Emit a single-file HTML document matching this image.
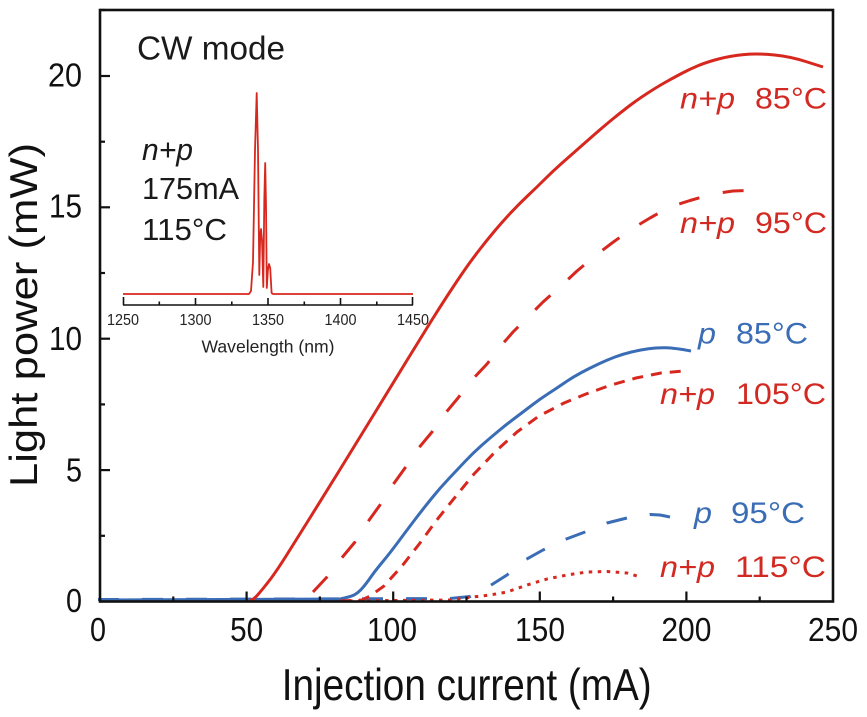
<!DOCTYPE html>
<html><head><meta charset="utf-8"><style>
html,body{margin:0;padding:0;background:#fff;}
svg{display:block;}
text{font-family:"Liberation Sans",Arial,sans-serif;}
</style></head><body>
<svg width="867" height="717" viewBox="0 0 867 717" xmlns="http://www.w3.org/2000/svg">
<rect width="867" height="717" fill="#fff"/>

<!-- Inset spectrum -->
<g>
<polyline fill="none" stroke="#d7281f" stroke-width="1.8" stroke-linejoin="round" points="123,294 249,294 251,291 253,262 255,150 256.7,93 258,150 259.3,275 260.2,236 261,229 262,240 263.3,287 264.3,200 265.2,163 266,205 266.8,288 267.9,270 269,264 270.2,268 271.6,293 273,294 413,294"/>
<line x1="123" y1="305" x2="413" y2="305" stroke="#111" stroke-width="1.6"/>
<g stroke="#111" stroke-width="1.6">
<line x1="123.5" y1="305" x2="123.5" y2="297"/>
<line x1="195.5" y1="305" x2="195.5" y2="298"/>
<line x1="268" y1="305" x2="268" y2="298"/>
<line x1="340.5" y1="305" x2="340.5" y2="298"/>
<line x1="412.5" y1="305" x2="412.5" y2="297"/>
<line x1="159.3" y1="305" x2="159.3" y2="301.5"/>
<line x1="231.8" y1="305" x2="231.8" y2="301.5"/>
<line x1="304.3" y1="305" x2="304.3" y2="301.5"/>
<line x1="376.8" y1="305" x2="376.8" y2="301.5"/>
</g>
<g font-size="15.5" fill="#222" text-anchor="middle">
<text x="123" y="325" textLength="32" lengthAdjust="spacingAndGlyphs">1250</text>
<text x="195.5" y="325" textLength="32" lengthAdjust="spacingAndGlyphs">1300</text>
<text x="268" y="325" textLength="32" lengthAdjust="spacingAndGlyphs">1350</text>
<text x="340.5" y="325" textLength="32" lengthAdjust="spacingAndGlyphs">1400</text>
<text x="413" y="325" textLength="32" lengthAdjust="spacingAndGlyphs">1450</text>
<text x="268" y="352.5" font-size="17.5" textLength="133" lengthAdjust="spacingAndGlyphs">Wavelength (nm)</text>
</g>
<g fill="#1a1a1a">
<text x="137" y="59.5" font-size="33" textLength="148" lengthAdjust="spacingAndGlyphs">CW mode</text>
<text x="142" y="160" font-size="30.5" font-style="italic" textLength="51" lengthAdjust="spacingAndGlyphs">n+p</text>
<text x="142" y="199" font-size="30.5" textLength="97" lengthAdjust="spacingAndGlyphs">175mA</text>
<text x="142" y="240" font-size="30.5" textLength="85" lengthAdjust="spacingAndGlyphs">115°C</text>
</g>
</g>

<!-- Curves -->
<g fill="none" stroke-width="3" stroke-linejoin="round">
<!-- blue dashed p 95 -->
<polyline stroke="#3a6db5" stroke-dasharray="21 23" points="98,599.5 450,598.5 470,596.5 488,587 507,575 525,560 543,550 565,539.5 585,532 607,523 627,518 650,514.5 660,515 670,517"/>
<!-- blue solid p 85 -->
<path stroke="#3a6db5" d="M100,600 L340,599 Q350,597 354,595 Q358,593 362,588.5 Q366,584 370.5,577.5 Q375,571 382.5,562 Q390,553 398.5,541.5 Q407,530 415,519.5 Q423,509 431.5,498.5 Q440,488 448.5,479 Q457,470 465,461.5 Q473,453 481.5,445.5 Q490,438 498.5,431 Q507,424 515,418 Q523,412 531.5,405.5 Q540,399 548.5,393.5 Q557,388 565,382.5 Q573,377 581.5,372.5 Q590,368 598.5,364 Q607,360 615,357 Q623,354 631.5,352 Q640,350 648.5,348.75 Q657,347.5 666,347.75 Q675,348 691,351"/>
<!-- red solid n+p 85 -->
<path stroke="#d7281f" d="M250,600.5 L252,599.75 Q254,599 258,594.5 Q262,590 269,581 Q276,572 287,554.5 Q298,537 310.5,517 Q323,497 340,469.5 Q357,442 373.5,415 Q390,388 407.5,359.5 Q425,331 432.5,319 Q440,307 447.5,295.5 Q455,284 462.5,273 Q470,262 478.5,251 Q487,240 495,230.5 Q503,221 511.5,212 Q520,203 528.5,195 Q537,187 545,179 Q553,171 561.5,163.5 Q570,156 578.5,148.5 Q587,141 595,134 Q603,127 611.5,120 Q620,113 628.5,106.5 Q637,100 647,93.5 Q657,87 665,82.5 Q673,78 681.5,73.5 Q690,69 698.5,65.5 Q707,62 718.5,59 Q730,56 743.5,54.65 Q757,53.3 773.5,54.9 Q790,56.5 806.5,61.75 L823,67"/>
<!-- red dashed n+p 95 -->
<polyline stroke="#d7281f" stroke-dasharray="21 24" points="313,592 327,577 340,560 355,542 367,523 380,505 392,486 405,468 417,450 432,432 443,416 458,398 470,382 487,364 500,347 513,332 528,317 543,302 562,285 577,271 595,256 612,243 630,230 650,218 670,207 690,200.5 713,194 733,191 758,190"/>
<!-- red short dashed n+p 105 -->
<polyline stroke="#d7281f" stroke-dasharray="11 8" points="340,601 362,600 370,596 384,586 402,566 420,543 436,521 456,496 474,474 496,451 517,432 539,416 564,403 586,394 611,385 636,378 661,373 684,371"/>
<!-- red dotted n+p 115 -->
<polyline stroke="#d7281f" stroke-dasharray="3.5 5.5" points="340,601 450,600 473,597 490,595 507,592 527,585 547,579 567,575 587,572 607,571.5 627,573 637,576"/>
</g>

<!-- Axes frame -->
<rect x="100" y="10" width="733" height="591.5" fill="none" stroke="#111" stroke-width="2.6"/>
<g stroke="#111" stroke-width="2.2">
<line x1="246.6" y1="601.5" x2="246.6" y2="591.5"/>
<line x1="393.2" y1="601.5" x2="393.2" y2="591.5"/>
<line x1="539.8" y1="601.5" x2="539.8" y2="591.5"/>
<line x1="686.4" y1="601.5" x2="686.4" y2="591.5"/>
<line x1="173.3" y1="601.5" x2="173.3" y2="596.5"/>
<line x1="319.9" y1="601.5" x2="319.9" y2="596.5"/>
<line x1="466.5" y1="601.5" x2="466.5" y2="596.5"/>
<line x1="613.1" y1="601.5" x2="613.1" y2="596.5"/>
<line x1="759.7" y1="601.5" x2="759.7" y2="596.5"/>
<line x1="100" y1="470.1" x2="110" y2="470.1"/>
<line x1="100" y1="338.7" x2="110" y2="338.7"/>
<line x1="100" y1="207.3" x2="110" y2="207.3"/>
<line x1="100" y1="76" x2="110" y2="76"/>
<line x1="100" y1="535.8" x2="105" y2="535.8"/>
<line x1="100" y1="404.4" x2="105" y2="404.4"/>
<line x1="100" y1="273" x2="105" y2="273"/>
<line x1="100" y1="141.7" x2="105" y2="141.7"/>
<line x1="100" y1="10" x2="105" y2="10"/>
</g>

<!-- Tick labels -->
<g font-size="33" fill="#111">
<g text-anchor="end">
<text x="82" y="612" textLength="16" lengthAdjust="spacingAndGlyphs">0</text>
<text x="82" y="481.5" textLength="16" lengthAdjust="spacingAndGlyphs">5</text>
<text x="82" y="350" textLength="33" lengthAdjust="spacingAndGlyphs">10</text>
<text x="82" y="217.5" textLength="33" lengthAdjust="spacingAndGlyphs">15</text>
<text x="82" y="86.5" textLength="34" lengthAdjust="spacingAndGlyphs">20</text>
</g>
<g text-anchor="middle">
<text x="98" y="641" textLength="16" lengthAdjust="spacingAndGlyphs">0</text>
<text x="246.6" y="641" textLength="33" lengthAdjust="spacingAndGlyphs">50</text>
<text x="392" y="641" textLength="50" lengthAdjust="spacingAndGlyphs">100</text>
<text x="540" y="641" textLength="50" lengthAdjust="spacingAndGlyphs">150</text>
<text x="686.4" y="641" textLength="50" lengthAdjust="spacingAndGlyphs">200</text>
<text x="833" y="641" textLength="50" lengthAdjust="spacingAndGlyphs">250</text>
</g>
</g>

<!-- Axis titles -->
<text x="466.7" y="700" font-size="44.5" fill="#111" text-anchor="middle" textLength="370" lengthAdjust="spacingAndGlyphs">Injection current (mA)</text>
<text transform="translate(37,315) scale(0.89,1) rotate(-90)" x="0" y="0" font-size="44" fill="#111" text-anchor="middle" textLength="344" lengthAdjust="spacingAndGlyphs">Light power (mW)</text>

<!-- Curve labels -->
<g font-size="30">
<g fill="#d22a22">
<text x="680" y="108.5" font-style="italic" textLength="55" lengthAdjust="spacingAndGlyphs">n+p</text>
<text x="755" y="108.5" textLength="72" lengthAdjust="spacingAndGlyphs">85°C</text>
<text x="680" y="233" font-style="italic" textLength="55" lengthAdjust="spacingAndGlyphs">n+p</text>
<text x="755" y="233" textLength="72" lengthAdjust="spacingAndGlyphs">95°C</text>
<text x="660" y="404" font-style="italic" textLength="55" lengthAdjust="spacingAndGlyphs">n+p</text>
<text x="736" y="404" textLength="90" lengthAdjust="spacingAndGlyphs">105°C</text>
<text x="660" y="577" font-style="italic" textLength="55" lengthAdjust="spacingAndGlyphs">n+p</text>
<text x="735" y="577" textLength="91" lengthAdjust="spacingAndGlyphs">115°C</text>
</g>
<g fill="#3a6db5">
<text x="698" y="343.5" font-style="italic" textLength="18" lengthAdjust="spacingAndGlyphs">p</text>
<text x="736" y="343.5" textLength="72" lengthAdjust="spacingAndGlyphs">85°C</text>
<text x="694" y="523" font-style="italic" textLength="18" lengthAdjust="spacingAndGlyphs">p</text>
<text x="731" y="523" textLength="74" lengthAdjust="spacingAndGlyphs">95°C</text>
</g>
</g>
</svg>
</body></html>
